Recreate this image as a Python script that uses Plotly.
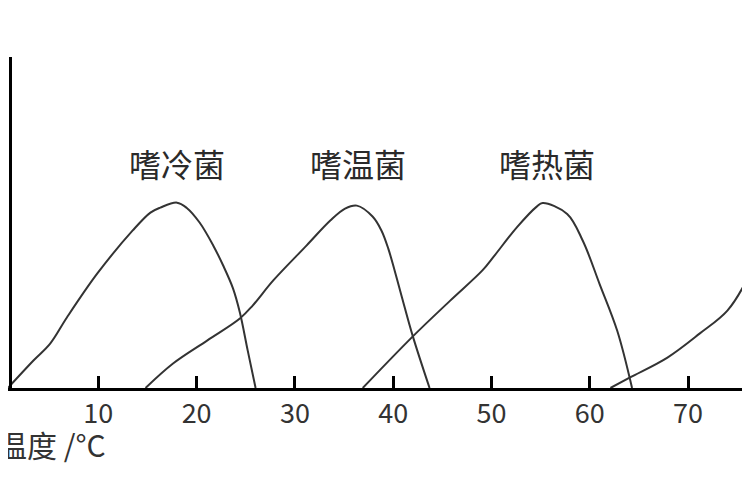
import plotly.graph_objects as go

# growth-rate curves (temperature in deg C, rate in arbitrary units)
psychro_t = [0.8, 3.4, 5.1, 6.8, 9.9, 13.5, 15.3, 16.3, 18.0, 19.0, 20.3, 21.7, 22.7, 23.7, 24.4, 25.2, 26.0]
psychro_r = [0, 8.3, 13.4, 21.3, 34.6, 47.6, 53.0, 54.5, 56.0, 54.4, 50.0, 43.0, 37.0, 30.1, 22.8, 11.3, 0]

meso_t = [14.8, 17.6, 21.1, 24.4, 25.7, 27.8, 31.2, 33.6, 35.1, 36.3, 37.9, 38.8, 39.5, 40.2, 40.9, 42.0, 43.7]
meso_r = [0, 7.4, 14.4, 21.0, 24.9, 32.5, 43.1, 50.6, 54.2, 55.1, 51.8, 47.6, 42.1, 34.9, 27.3, 15.6, 0]

thermo_t = [36.9, 42.0, 45.8, 49.1, 50.2, 52.6, 54.6, 55.2, 57.7, 59.3, 61.0, 62.8, 64.3]
thermo_r = [0, 15.6, 26.4, 35.6, 39.6, 48.6, 54.8, 55.9, 52.6, 44.4, 31.4, 17.2, 0]

hyper_t = [62.1, 64.1, 67.9, 71.2, 74.0, 76.0, 76.3]
hyper_r = [0, 3.2, 9.2, 16.5, 23.4, 32.8, 35.0]

labels = ["嗜冷菌", "嗜温菌", "嗜热菌"]
label_t = [18.0, 36.4, 55.6]
label_r = 68.0

x_ticks = [0, 10, 20, 30, 40, 50, 60, 70]

LINE = "#333333"
FONT = "Noto Sans CJK SC"

# the page body adds 8px around the figure, so the figure is 742x492
W, H = 742, 492

fig = go.Figure()
for t, r in [(psychro_t, psychro_r), (meso_t, meso_r), (thermo_t, thermo_r), (hyper_t, hyper_r)]:
    fig.add_trace(go.Scatter(
        x=t, y=r, mode="lines",
        line=dict(color=LINE, width=2, shape="spline", smoothing=1.0),
        hoverinfo="skip",
    ))

for name, t in zip(labels, label_t):
    fig.add_annotation(x=t, y=label_r, text=name, showarrow=False,
                       font=dict(family=FONT, size=32, color="#2a2a2a"))

# fourth label is cut off by the right edge of the picture
fig.add_annotation(xref="paper", x=738 / W, y=label_r, xanchor="left", text="嗜高温菌",
                   showarrow=False, font=dict(family=FONT, size=32, color="#2a2a2a"))

fig.add_annotation(xref="paper", yref="paper", x=100 / W, y=-0.168, xanchor="right",
                   yanchor="middle", text="温度 /°C", showarrow=False,
                   font=dict(family=FONT, size=30, color="#333333"))

fig.update_layout(
    width=W, height=H,
    margin=dict(l=0, r=0, t=49, b=112),
    paper_bgcolor="white", plot_bgcolor="white",
    showlegend=False,
    xaxis=dict(
        range=[0.81, 76.3], tickvals=x_ticks, ticks="inside", ticklen=12, tickwidth=3,
        tickcolor="black", showline=True, linecolor="black", linewidth=3,
        showgrid=False, zeroline=False, ticklabeloverflow="allow", automargin=False,
        tickfont=dict(family=FONT, size=27, color="#333333"),
    ),
    yaxis=dict(
        range=[0, 100], anchor="free", position=2 / W, showline=True,
        linecolor="black", linewidth=3, showticklabels=False, ticks="",
        showgrid=False, zeroline=False, automargin=False,
    ),
)

fig.write_html("out.html")
